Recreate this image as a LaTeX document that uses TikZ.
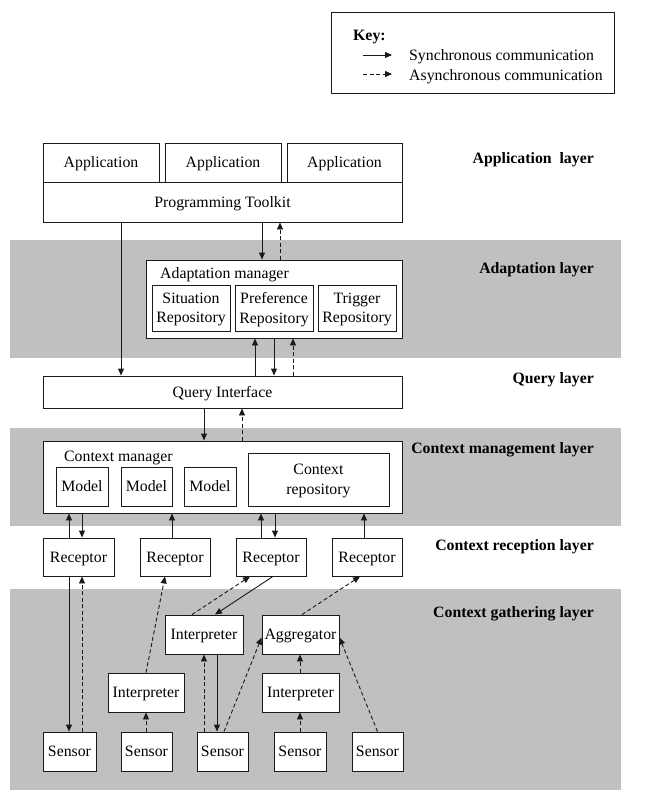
\documentclass[tikz,border=0pt]{standalone}
\usepackage{fontspec}
\setmainfont{Liberation Serif}
\usetikzlibrary{arrows.meta}
\definecolor{band}{HTML}{C0C0C0}
\definecolor{ink}{HTML}{1A1A1A}
\newcommand{\dgfont}{\fontsize{15.8}{19.5}\selectfont}
\begin{document}
\begin{tikzpicture}[x=1pt,y=-1pt,
  box/.style={draw=ink, fill=white, line width=0.9pt, inner sep=0pt, align=center, font=\dgfont, text depth=0pt},
  plain/.style={inner sep=0pt, font=\dgfont, text depth=0pt},
  layerlabel/.style={inner sep=0pt, anchor=east, font=\dgfont\bfseries, text depth=0pt},
  sync/.style={draw=ink, line width=0.9pt, -{Triangle[length=7pt,width=6pt]}},
  async/.style={draw=ink, line width=0.9pt, dash pattern=on 4pt off 2.5pt, -{Triangle[length=7pt,width=6pt]}}]
\useasboundingbox (0,0) rectangle (672,790);
\fill[white] (0,0) rectangle (672,790);
% layer bands
\fill[band] (10,240) rectangle (621,358);
\fill[band] (10,428) rectangle (621,526);
\fill[band] (10,589) rectangle (621,790);
% key
\node[draw=ink, line width=0.9pt, minimum width=283, minimum height=81, inner sep=0pt] (key) at (473,52.5) {};
\node[plain, anchor=west, font=\dgfont\bfseries] (keytitle) at (353,35) {Key:};
\coordinate (ks1) at (363,55); \coordinate (ke1) at (392,55);
\coordinate (ks2) at (363,74); \coordinate (ke2) at (392,74);
\draw[sync] (ks1) -- (ke1);
\draw[async] (ks2) -- (ke2);
\node[plain, anchor=west] (ksync) at (409,55) {Synchronous communication};
\node[plain, anchor=west] (kasync) at (409,75) {Asynchronous communication};
% layer labels
\node[layerlabel] (l1) at (594,158) {Application\ \ layer};
\node[layerlabel] (l2) at (594,268) {Adaptation layer};
\node[layerlabel] (l3) at (594,378) {Query layer};
\node[layerlabel] (l4) at (594,448) {Context management layer};
\node[layerlabel] (l5) at (594,545) {Context reception layer};
\node[layerlabel] (l6) at (594,612) {Context gathering layer};
% application layer
\node[box, minimum width=116, minimum height=39] (app1) at (101,162.5) {Application};
\node[box, minimum width=116, minimum height=39] (app2) at (223,162.5) {Application};
\node[box, minimum width=115, minimum height=39] (app3) at (344.5,162.5) {Application};
\node[box, minimum width=359, minimum height=40] (toolkit) at (222.5,202) {Programming Toolkit};
% adaptation manager
\node[box, minimum width=256, minimum height=78] (am) at (274,299) {};
\node[plain, anchor=west] (amtitle) at (160,273) {Adaptation manager};
\node[box, minimum width=78, minimum height=46] (sit) at (191,308) {Situation\\Repository};
\node[box, minimum width=78, minimum height=46] (pref) at (274,308) {Preference\\Repository};
\node[box, minimum width=78, minimum height=46] (trig) at (357,308) {Trigger\\Repository};
% query interface
\node[box, minimum width=359, minimum height=32] (qi) at (222.5,392) {Query Interface};
% context manager
\node[box, minimum width=359, minimum height=72] (cm) at (222.5,477) {};
\node[plain, anchor=west] (cmtitle) at (64,456) {Context manager};
\node[box, minimum width=52, minimum height=39] (m1) at (82,486.5) {Model};
\node[box, minimum width=51, minimum height=39] (m2) at (146.5,486.5) {Model};
\node[box, minimum width=52, minimum height=39] (m3) at (210,486.5) {Model};
\node[box, minimum width=141, minimum height=53] (crepo) at (318.5,479.5) {Context\\repository};
% receptors
\node[box, minimum width=71, minimum height=38] (r1) at (78.5,557) {Receptor};
\node[box, minimum width=70, minimum height=38] (r2) at (175,557) {Receptor};
\node[box, minimum width=70, minimum height=38] (r3) at (271,557) {Receptor};
\node[box, minimum width=70, minimum height=38] (r4) at (367,557) {Receptor};
% gathering
\node[box, minimum width=78, minimum height=39] (int2) at (204,634.5) {Interpreter};
\node[box, minimum width=77, minimum height=39] (agg) at (300.5,634.5) {Aggregator};
\node[box, minimum width=76, minimum height=39] (int1) at (146,692.5) {Interpreter};
\node[box, minimum width=77, minimum height=39] (int3) at (300.5,692.5) {Interpreter};
\node[box, minimum width=53, minimum height=39] (s1) at (69.5,751.5) {Sensor};
\node[box, minimum width=51, minimum height=39] (s2) at (146.5,751.5) {Sensor};
\node[box, minimum width=51, minimum height=39] (s3) at (222.5,751.5) {Sensor};
\node[box, minimum width=52, minimum height=39] (s4) at (300,751.5) {Sensor};
\node[box, minimum width=51, minimum height=39] (s5) at (377.5,751.5) {Sensor};
% column helpers
\coordinate (c121) at (121,0); \coordinate (c262) at (262,0); \coordinate (c280) at (280,0);
\coordinate (c255) at (255,0); \coordinate (c274) at (274,0); \coordinate (c293) at (293,0);
\coordinate (c204) at (204,0); \coordinate (c242) at (242,0);
\coordinate (c69) at (69,0); \coordinate (c82) at (82,0); \coordinate (c172) at (172,0);
\coordinate (c261) at (261,0); \coordinate (c275) at (275,0); \coordinate (c364) at (364,0);
\coordinate (c146) at (146,0); \coordinate (c217) at (217,0); \coordinate (c300) at (300,0);
% connectors
\draw[sync] (toolkit.south -| c121) -- (qi.north -| c121);
\draw[sync] (toolkit.south -| c262) -- (am.north -| c262);
\draw[async] (am.north -| c280) -- (toolkit.south -| c280);
\draw[sync] (qi.north -| c255) -- (am.south -| c255);
\draw[sync] (am.south -| c274) -- (qi.north -| c274);
\draw[async] (qi.north -| c293) -- (am.south -| c293);
\draw[sync] (qi.south -| c204) -- (cm.north -| c204);
\draw[async] (cm.north -| c242) -- (qi.south -| c242);
\draw[sync] (r1.north -| c69) -- (cm.south -| c69);
\draw[sync] (cm.south -| c82) -- (r1.north -| c82);
\draw[sync] (r2.north -| c172) -- (cm.south -| c172);
\draw[sync] (r3.north -| c261) -- (cm.south -| c261);
\draw[sync] (cm.south -| c275) -- (r3.north -| c275);
\draw[sync] (r4.north -| c364) -- (cm.south -| c364);
\draw[sync] (r1.south -| c69) -- (s1.north -| c69);
\draw[async] (s1.north -| c82) -- (r1.south -| c82);
\draw[async] (s2.north -| c146) -- (int1.south -| c146);
\draw[async] (int1.north) -- ([xshift=-10pt]r2.south);
\draw[async] ([xshift=-12pt]int2.north) -- ([xshift=-21pt]r3.south);
\draw[sync] ([xshift=2pt]r3.south) -- ([xshift=11pt]int2.north);
\draw[async] (s3.north -| c204) -- (int2.south -| c204);
\draw[sync] (int2.south -| c217) -- (s3.north -| c217);
\draw[async] ([xshift=1.5pt]s3.north) -- ([yshift=-3pt]agg.west);
\draw[async] (s4.north -| c300) -- (int3.south -| c300);
\draw[async] (int3.north -| c300) -- (agg.south -| c300);
\draw[async] (s5.north) -- ([yshift=-3pt]agg.east);
\draw[async] ([xshift=1.5pt]agg.north) -- ([xshift=-7pt]r4.south);
\end{tikzpicture}
\end{document}
